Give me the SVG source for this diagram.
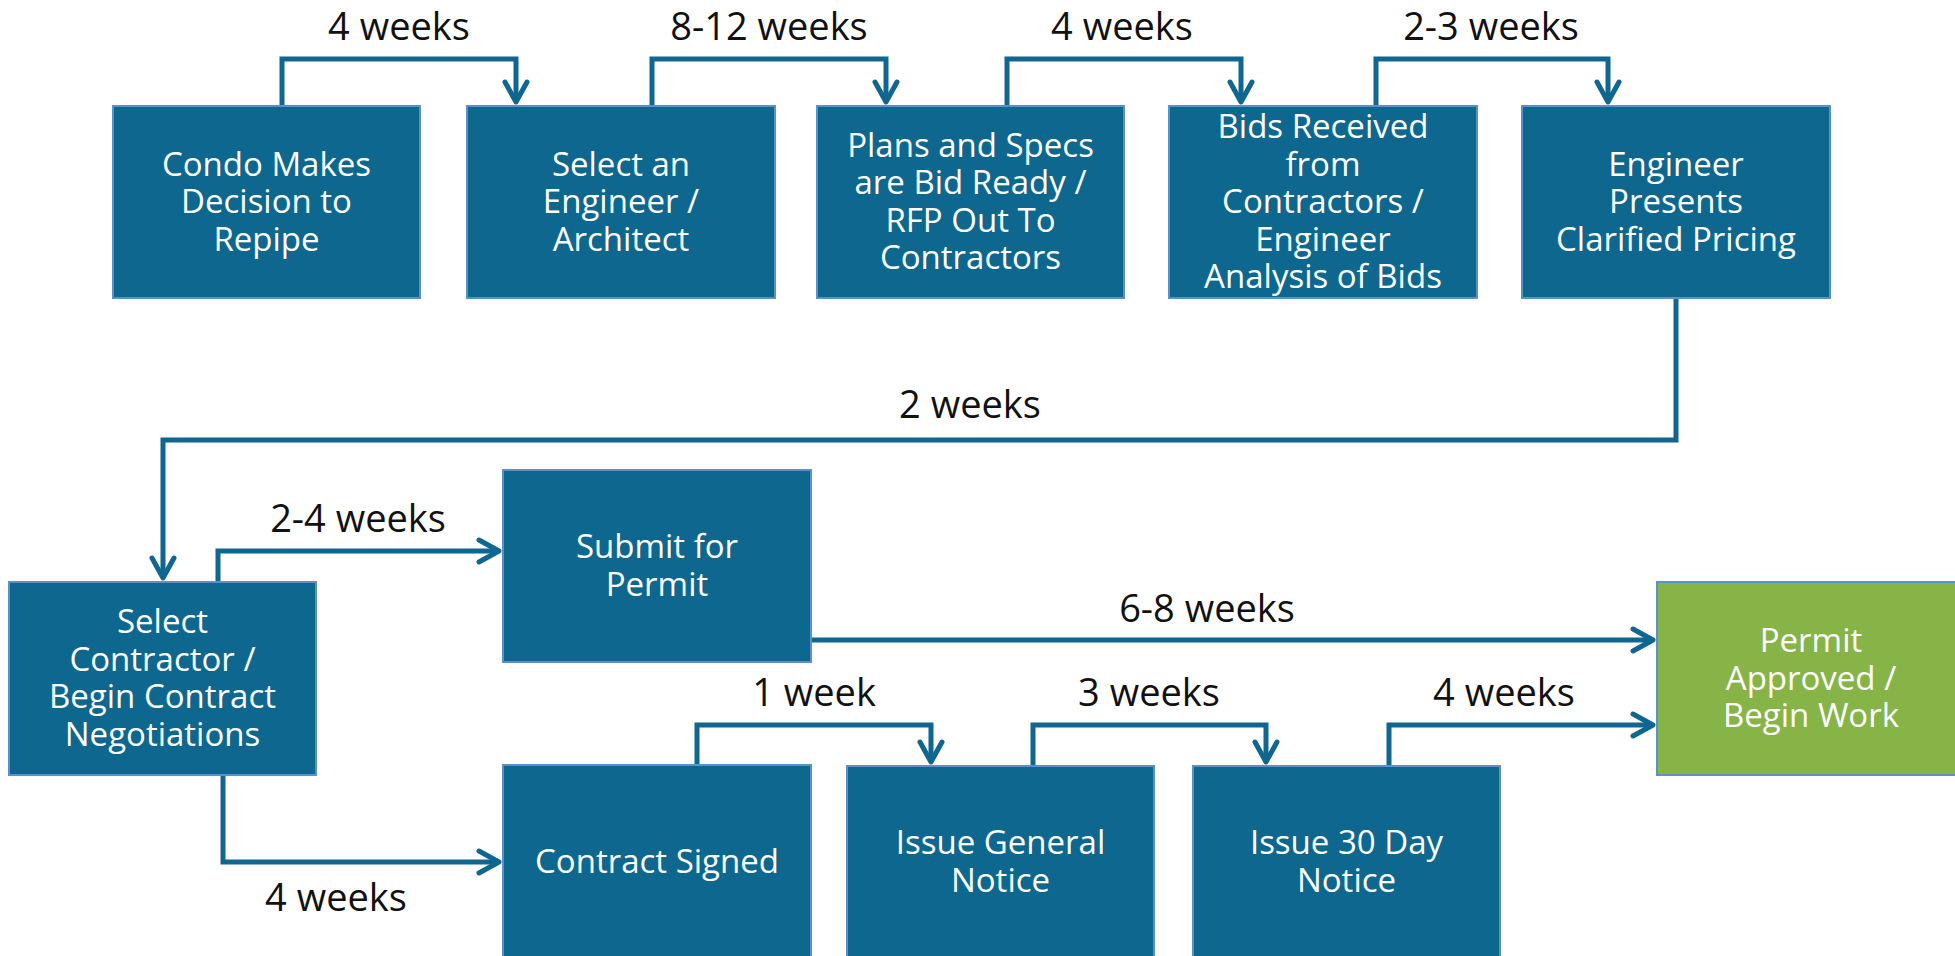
<svg xmlns="http://www.w3.org/2000/svg" width="1955" height="956" viewBox="0 0 1955 956">
  <style>
    .box { fill: #0E678F; stroke: #5C90C8; stroke-width: 2; }
    .box.done { fill: #86B447; }
    .btxt { font-family: "Open Sans", "Liberation Sans", sans-serif; font-size: 33px; fill: #FFFFFF; text-anchor: middle; }
    .lbl { font-family: "Open Sans", "Liberation Sans", sans-serif; font-size: 38px; fill: #111111; text-anchor: middle; }
    .conn { fill: none; stroke: #0F6690; stroke-width: 5; stroke-linejoin: miter; }
  </style>
  <defs>
    <marker id="arr" markerUnits="userSpaceOnUse" viewBox="-26 -16 30 32" markerWidth="30" markerHeight="32" refX="0" refY="0" orient="auto" overflow="visible">
      <path d="M-20,-11 L0,0 L-20,11" fill="none" stroke="#0F6690" stroke-width="5" stroke-linecap="round" stroke-linejoin="round"/>
    </marker>
  </defs>
  <rect width="1955" height="956" fill="#FFFFFF"/>

  <!-- connectors with duration labels -->
  <g id="connectors">
    <path class="conn" d="M282,106 V59 H516 V102" marker-end="url(#arr)"/>
    <text class="lbl" x="399" y="40">4 weeks</text>
    <path class="conn" d="M652,106 V59 H886 V102" marker-end="url(#arr)"/>
    <text class="lbl" x="769" y="40">8-12 weeks</text>
    <path class="conn" d="M1007,106 V59 H1241 V102" marker-end="url(#arr)"/>
    <text class="lbl" x="1122" y="40">4 weeks</text>
    <path class="conn" d="M1376,106 V59 H1608 V102" marker-end="url(#arr)"/>
    <text class="lbl" x="1491" y="40">2-3 weeks</text>

    <path class="conn" d="M1676,298 V440 H163 V578" marker-end="url(#arr)"/>
    <text class="lbl" x="970" y="418">2 weeks</text>

    <path class="conn" d="M218,582 V551 H499" marker-end="url(#arr)"/>
    <text class="lbl" x="358" y="532">2-4 weeks</text>
    <path class="conn" d="M223,775 V862 H499" marker-end="url(#arr)"/>
    <text class="lbl" x="336" y="911">4 weeks</text>

    <path class="conn" d="M811,640 H1653" marker-end="url(#arr)"/>
    <text class="lbl" x="1207" y="622">6-8 weeks</text>

    <path class="conn" d="M697,766 V725 H931 V762" marker-end="url(#arr)"/>
    <text class="lbl" x="814" y="706">1 week</text>
    <path class="conn" d="M1033,766 V725 H1266 V762" marker-end="url(#arr)"/>
    <text class="lbl" x="1149" y="706">3 weeks</text>
    <path class="conn" d="M1389,766 V725 H1653" marker-end="url(#arr)"/>
    <text class="lbl" x="1504" y="706">4 weeks</text>
  </g>

  <!-- top row -->
  <g id="condo-decision">
    <rect class="box" x="113" y="106" width="307" height="192"/>
    <text class="btxt" x="266.5"><tspan x="266.5" y="175.5">Condo Makes</tspan><tspan x="266.5" y="213">Decision to</tspan><tspan x="266.5" y="250.5">Repipe</tspan></text>
  </g>
  <g id="select-engineer">
    <rect class="box" x="467" y="106" width="308" height="192"/>
    <text class="btxt"><tspan x="621" y="175.5">Select an</tspan><tspan x="621" y="213">Engineer /</tspan><tspan x="621" y="250.5">Architect</tspan></text>
  </g>
  <g id="plans-specs">
    <rect class="box" x="817" y="106" width="307" height="192"/>
    <text class="btxt"><tspan x="970.5" y="156.75">Plans and Specs</tspan><tspan x="970.5" y="194.25">are Bid Ready /</tspan><tspan x="970.5" y="231.75">RFP Out To</tspan><tspan x="970.5" y="269.25">Contractors</tspan></text>
  </g>
  <g id="bids-received">
    <rect class="box" x="1169" y="106" width="308" height="192"/>
    <text class="btxt"><tspan x="1323" y="138">Bids Received</tspan><tspan x="1323" y="175.5">from</tspan><tspan x="1323" y="213">Contractors /</tspan><tspan x="1323" y="250.5">Engineer</tspan><tspan x="1323" y="288">Analysis of Bids</tspan></text>
  </g>
  <g id="clarified-pricing">
    <rect class="box" x="1522" y="106" width="308" height="192"/>
    <text class="btxt"><tspan x="1676" y="175.5">Engineer</tspan><tspan x="1676" y="213">Presents</tspan><tspan x="1676" y="250.5">Clarified Pricing</tspan></text>
  </g>

  <!-- lower section -->
  <g id="select-contractor">
    <rect class="box" x="9" y="582" width="307" height="193"/>
    <text class="btxt"><tspan x="162.5" y="633.25">Select</tspan><tspan x="162.5" y="670.75">Contractor /</tspan><tspan x="162.5" y="708.25">Begin Contract</tspan><tspan x="162.5" y="745.75">Negotiations</tspan></text>
  </g>
  <g id="submit-permit">
    <rect class="box" x="503" y="470" width="308" height="192"/>
    <text class="btxt"><tspan x="657" y="558.25">Submit for</tspan><tspan x="657" y="595.75">Permit</tspan></text>
  </g>
  <g id="contract-signed">
    <rect class="box" x="503" y="765" width="308" height="194"/>
    <text class="btxt" x="657" y="873">Contract Signed</text>
  </g>
  <g id="general-notice">
    <rect class="box" x="847" y="766" width="307" height="193"/>
    <text class="btxt"><tspan x="1000.5" y="854.25">Issue General</tspan><tspan x="1000.5" y="891.75">Notice</tspan></text>
  </g>
  <g id="thirty-day-notice">
    <rect class="box" x="1193" y="766" width="307" height="193"/>
    <text class="btxt"><tspan x="1346.5" y="854.25">Issue 30 Day</tspan><tspan x="1346.5" y="891.75">Notice</tspan></text>
  </g>
  <g id="permit-approved">
    <rect class="box done" x="1657" y="582" width="308" height="193"/>
    <text class="btxt"><tspan x="1811" y="652">Permit</tspan><tspan x="1811" y="689.5">Approved /</tspan><tspan x="1811" y="727">Begin Work</tspan></text>
  </g>
</svg>
